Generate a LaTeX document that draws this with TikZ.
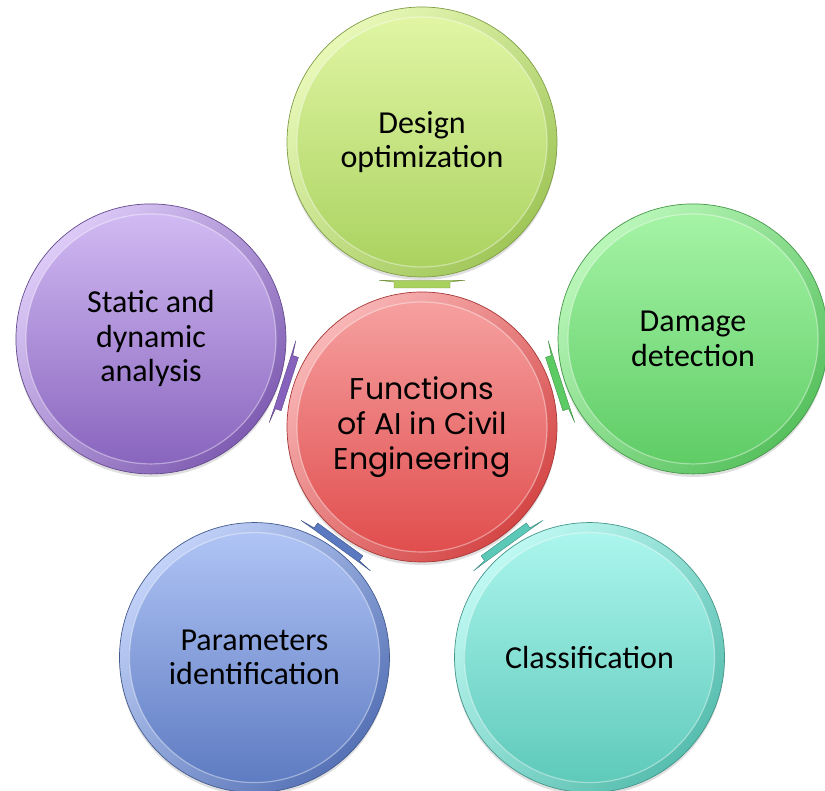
\documentclass[tikz,border=0pt]{standalone}
\usepackage{fontspec}
\setmainfont{Carlito}
\newfontfamily\cgfont{Poppins}
\usetikzlibrary{calc,shadows}
\definecolor{rT}{HTML}{F7A3A3}\definecolor{rB}{HTML}{E04A4A}
\definecolor{yT}{HTML}{E2F7A6}\definecolor{yB}{HTML}{A9D15E}
\definecolor{gT}{HTML}{A8F5A8}\definecolor{gB}{HTML}{5CCB63}
\definecolor{tT}{HTML}{AEF7EF}\definecolor{tB}{HTML}{5CC8B8}
\definecolor{bT}{HTML}{B3C7F7}\definecolor{bB}{HTML}{5B79C0}
\definecolor{pT}{HTML}{D4BDF5}\definecolor{pB}{HTML}{8662BC}
\tikzset{
  bub/.style n args={2}{circle, minimum size=270pt, inner sep=0pt,
    draw=#2!75!black, line width=0.7pt,
    top color=#1!80!white, bottom color=#2!95!black, shading angle=45,
    drop shadow={opacity=0.25, shadow xshift=0pt, shadow yshift=-3pt},
    path picture={
      \shade[top color=#1, bottom color=#2]
        (path picture bounding box.center) circle[radius=125pt];
      \draw[white, opacity=0.4, line width=1.2pt]
        (path picture bounding box.center) circle[radius=125pt];
    },
    align=center, font=\fontsize{32}{34.5}\selectfont},
  barshape/.style={fill=#1, draw=#1!70!black, line width=0.4pt}
}
\begin{document}
\begin{tikzpicture}[x=1pt,y=1pt]
\useasboundingbox (0,0) rectangle (825,791);
\clip (0,0) rectangle (825,791);
\coordinate (o) at (422,364);
\node[bub={yT}{yB}] (t) at ($(o)+(90:285)$) {Design\\optimization};
\node[bub={gT}{gB}] (r) at ($(o)+(18:285)$) {Damage\\detection};
\node[bub={pT}{pB}] (l) at ($(o)+(162:285)$) {Static and\\dynamic\\analysis};
\node[bub={bT}{bB}] (bl) at ($(o)+(234:285)$) {Parameters\\identification};
\node[bub={tT}{tB}] (br) at ($(o)+(306:285)$) {Classification};
\node[bub={rT}{rB}, font=\cgfont\fontsize{30}{35}\selectfont] (c) at (o) {Functions\\of AI in Civil\\Engineering};
\foreach \n/\a/\col in {t/90/yB, r/18/gB, l/162/pB, bl/234/bB, br/306/tB}{
  \begin{scope}[shift={($(c.center)!0.5!(\n.center)$)}, rotate=\a-90]
    \draw[barshape=\col] (-43,4.2) -- (-28,2.5) -- (-28,-3.5) -- (28,-3.5)
      -- (28,2.5) -- (43,4.2) -- (28,4) -- (-28,4) -- cycle;
  \end{scope}
}
\end{tikzpicture}
\end{document}
